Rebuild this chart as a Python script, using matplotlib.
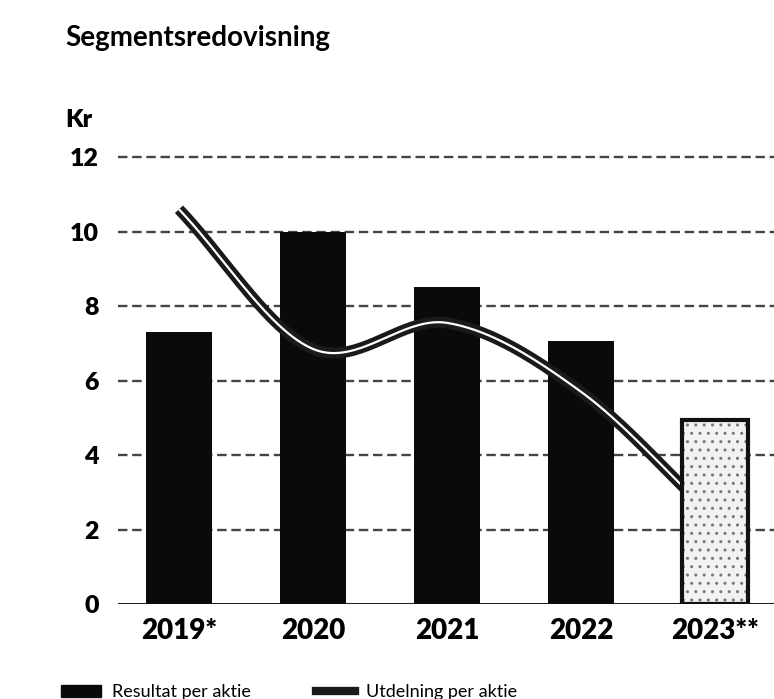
import numpy as np
import matplotlib
matplotlib.use("Agg")
import matplotlib.pyplot as plt
from matplotlib.patches import Patch
from matplotlib.lines import Line2D

plt.rcParams['font.family'] = ['Lato', 'DejaVu Sans']

# Segment figures (kr per share)
years = ['2019*', '2020', '2021', '2022', '2023**']
eps = [7.3, 10.0, 8.5, 7.05, 4.95]          # Resultat per aktie (bars)
dividend = [10.6, 6.85, 7.55, 5.7, 2.3]     # Utdelning per aktie (line)
yticks = [0, 2, 4, 6, 8, 10, 12]


def smooth(xs, ys, n=40):
    # Catmull-Rom spline through the points, like a smoothed office-chart line
    xs = np.asarray(xs, float)
    ys = np.asarray(ys, float)
    px = np.concatenate([[2 * xs[0] - xs[1]], xs, [2 * xs[-1] - xs[-2]]])
    py = np.concatenate([[2 * ys[0] - ys[1]], ys, [2 * ys[-1] - ys[-2]]])
    outx, outy = [], []
    t = np.linspace(0, 1, n)
    for i in range(1, len(px) - 2):
        for p, out in ((px, outx), (py, outy)):
            p0, p1, p2, p3 = p[i - 1], p[i], p[i + 1], p[i + 2]
            out.extend(0.5 * ((2 * p1) + (-p0 + p2) * t
                              + (2 * p0 - 5 * p1 + 4 * p2 - p3) * t ** 2
                              + (-p0 + 3 * p1 - 3 * p2 + p3) * t ** 3))
    return np.array(outx), np.array(outy)


fig = plt.figure(figsize=(7.74, 6.99), dpi=100)
W, H = 774, 699
left, bottom = 118, 95
ax = fig.add_axes([left / W, bottom / H, 798 / W, 458 / H])

x = np.arange(len(years))
ax.set_xlim(-0.455, 5.5)
ax.set_ylim(0, 12.3)

# dashed grid
for v in yticks[1:]:
    ax.axhline(v, color='#444444', lw=1.7, ls=(0, (4, 2)), zorder=0)
ax.axhline(0, color='#222222', lw=2.2, zorder=1)

# solid bars for the reported years, stippled bar for the forecast
ax.bar(x[:-1], eps[:-1], width=0.49, color='#0a0a0a', zorder=2)
ax.bar(x[-1], eps[-1], width=0.49, color='#f2f2f2', hatch='..',
       edgecolor='#777777', lw=0, zorder=5)
ax.bar(x[-1], eps[-1], width=0.49, facecolor='none',
       edgecolor='#111111', lw=3, zorder=6)

sx, sy = smooth(x, dividend)
ax.plot(sx, sy, color='#1a1a1a', lw=8, solid_capstyle='butt', zorder=3)
ax.plot(sx, sy, color='white', lw=1.6, solid_capstyle='butt', zorder=4)

for s in ax.spines.values():
    s.set_visible(False)
ax.set_yticks(yticks)
ax.set_yticklabels([str(v) for v in yticks], fontsize=18, fontweight='heavy')
ax.set_xticks(x)
ax.set_xticklabels(years, fontsize=20, fontweight='heavy')
ax.tick_params(length=0)
ax.tick_params(axis='y', pad=14)
ax.tick_params(axis='x', pad=10)

fig.text(65 / W, 1 - 46 / H, 'Segmentsredovisning', fontsize=20,
         fontweight='bold', family=['Liberation Sans Narrow', 'Lato'])
fig.text(65 / W, 1 - 127 / H, 'Kr', fontsize=18, fontweight='heavy')

handles = [Patch(facecolor='#0a0a0a', edgecolor='#0a0a0a'),
           Line2D([], [], color='#1a1a1a', lw=6)]
fig.legend(handles, ['Resultat per aktie', 'Utdelning per aktie'],
           loc='upper left', bbox_to_anchor=(54 / W, 22 / H), ncol=2,
           frameon=False, fontsize=13, handlelength=2.2, handletextpad=0.6,
           columnspacing=3.6, borderaxespad=0)

fig.savefig('out.png', dpi=100)
